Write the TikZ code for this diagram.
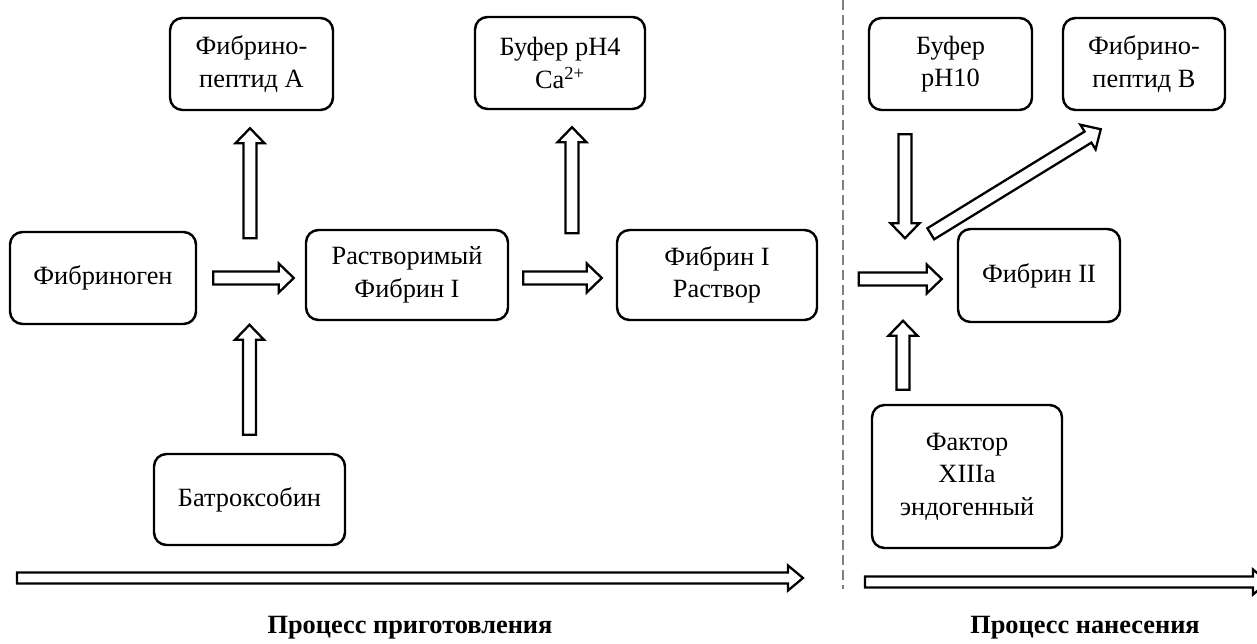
\documentclass[tikz,border=0pt]{standalone}
\usepackage{fontspec}
\setmainfont{Liberation Serif}
\usetikzlibrary{calc}
\newcommand{\arrw}{0.13cm}
\newcommand{\arrh}{0.29cm}
\newcommand{\arrl}{0.30cm}
\newcommand{\blockarrow}[2]{%
	\coordinate (ah) at ($(#2)!\arrl!(#1)$);
	\draw[blockarr] ($(#1)!\arrw!90:(#2)$) -- ($(ah)!\arrw!-90:(#1)$) -- ($(ah)!\arrh!-90:(#1)$) -- (#2)
		-- ($(ah)!\arrh!90:(#1)$) -- ($(ah)!\arrw!90:(#1)$) -- ($(#1)!\arrw!-90:(#2)$) -- cycle;}
\tikzset{
	stagebox/.style={draw,line width=1.4pt,rounded corners=0.25cm,align=center,
		font=\fontsize{15}{18.5}\selectfont,inner sep=2pt},
	blockarr/.style={draw,fill=white,line width=1.3pt,miter limit=4},
	caption/.style={font=\fontsize{15}{18.5}\selectfont\bfseries}
}
\begin{document}
\begin{tikzpicture}
			\useasboundingbox (0,0) rectangle (25.14,-12.88);
			\node[stagebox,minimum width=3.72cm,minimum height=1.84cm] (fgen) at (2.06,-5.56) {Фибриноген};
			\node[stagebox,minimum width=4.04cm,minimum height=1.80cm] (sol) at (8.14,-5.50) {Растворимый\\Фибрин I};
			\node[stagebox,minimum width=4.00cm,minimum height=1.80cm] (fib1) at (14.34,-5.50) {Фибрин I\\Раствор};
			\node[stagebox,minimum width=3.26cm,minimum height=1.84cm] (fpa) at (5.03,-1.28) {Фибрино-\\пептид А};
			\node[stagebox,minimum width=3.40cm,minimum height=1.84cm] (buf4) at (11.20,-1.26) {Буфер pH4\\Ca\textsuperscript{2+}};
			\node[stagebox,minimum width=3.82cm,minimum height=1.82cm] (batr) at (4.99,-9.99) {Батроксобин};
			\node[stagebox,minimum width=3.26cm,minimum height=1.84cm] (buf10) at (19.01,-1.28) {Буфер\\pH10};
			\node[stagebox,minimum width=3.24cm,minimum height=1.84cm] (fpb) at (22.88,-1.28) {Фибрино-\\пептид В};
			\node[stagebox,minimum width=3.24cm,minimum height=1.86cm] (fib2) at (20.78,-5.51) {Фибрин II};
			\node[stagebox,minimum width=3.80cm,minimum height=2.86cm] (f13) at (19.34,-9.53) {Фактор\\XIIIa\\эндогенный};
			\draw[gray,line width=1.1pt,dash pattern=on 0.2cm off 0.1cm] (16.86,0) -- (16.86,-11.78);
			% preparation
			\coordinate (a1s) at ($(fgen.east)+(0.32,0)$);
			\coordinate (a1e) at ($(a1s -| sol.west)+(-0.22,0)$);
			\blockarrow{a1s}{a1e}
			\coordinate (a2s) at ($(sol.east)+(0.28,-0.06)$);
			\coordinate (a2e) at ($(a2s -| fib1.west)+(-0.28,0)$);
			\blockarrow{a2s}{a2e}
			\coordinate (a3s) at ($(fpa.south)+(-0.03,-2.54)$);
			\coordinate (a3e) at ($(fpa.south)+(-0.03,-0.34)$);
			\blockarrow{a3s}{a3e}
			\coordinate (a4s) at ($(buf4.south)+(0.24,-2.46)$);
			\coordinate (a4e) at ($(buf4.south)+(0.24,-0.34)$);
			\blockarrow{a4s}{a4e}
			\coordinate (a5s) at ($(batr.north)+(0,0.36)$);
			\coordinate (a5e) at ($(batr.north)+(0,2.56)$);
			\blockarrow{a5s}{a5e}
			% application
			\coordinate (a6s) at ($(buf10.south)+(-0.91,-0.46)$);
			\coordinate (a6e) at ($(buf10.south)+(-0.91,-2.54)$);
			\blockarrow{a6s}{a6e}
			\coordinate (a7s) at ($(fib2.north west)+(-0.52,-0.12)$);
			\coordinate (a7e) at ($(fpb.south west)+(0.78,-0.36)$);
			\blockarrow{a7s}{a7e}
			\coordinate (a8s) at ($(fib2.west)+(-1.96,-0.07)$);
			\coordinate (a8e) at ($(fib2.west)+(-0.30,-0.07)$);
			\blockarrow{a8s}{a8e}
			\coordinate (a9s) at ($(f13.north)+(-1.28,0.28)$);
			\coordinate (a9e) at ($(f13.north)+(-1.28,1.66)$);
			\blockarrow{a9s}{a9e}
			\renewcommand{\arrw}{0.11cm}
			\renewcommand{\arrh}{0.25cm}
			\coordinate (p1) at (0.34,-11.56);
			\coordinate (p2) at (16.06,-11.56);
			\blockarrow{p1}{p2}
			\coordinate (q1) at (17.30,-11.64);
			\coordinate (q2) at (25.36,-11.64);
			\blockarrow{q1}{q2}
			\node[caption] (prep) at (8.20,-12.56) {Процесс приготовления};
			\node[caption] (appl) at (21.70,-12.56) {Процесс нанесения};
		\end{tikzpicture}
\end{document}
